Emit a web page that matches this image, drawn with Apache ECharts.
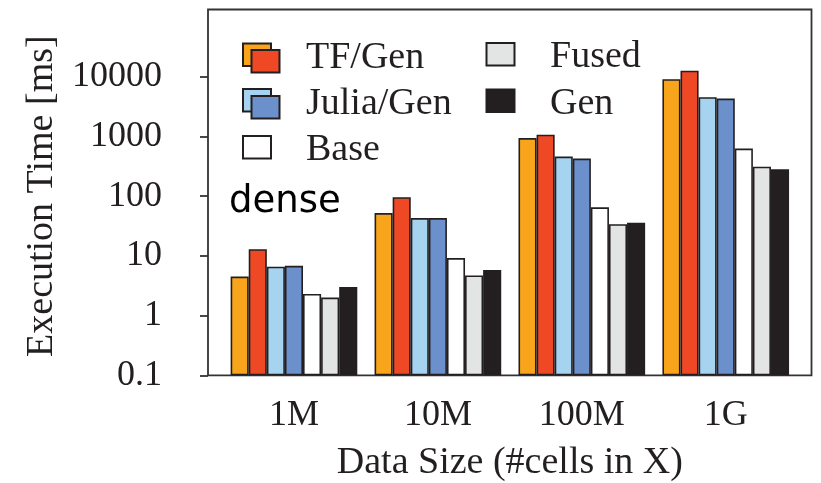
<!DOCTYPE html>
<html>
<head>
<meta charset="utf-8">
<script src="https://cdn.jsdelivr.net/npm/echarts@6/dist/echarts.min.js"></script>
<style>html,body{margin:0;padding:0;background:#fff;}#c{width:821px;height:483px;}</style>
</head>
<body>
<div id="c"></div>
<script>
// ---- data ----
const categories = ['1M', '10M', '100M', '1G'];
const tfTF    = [4.5, 52, 940, 9100];     // TF/Gen (orange)
const tfGen   = [12.9, 96, 1070, 12600];  // TF/Gen (red)
const juliaJ  = [6.6, 43, 460, 4550];     // Julia/Gen (light blue)
const juliaG  = [6.8, 43, 425, 4300];     // Julia/Gen (blue)
const base    = [2.3, 9.2, 65, 625];
const fused   = [2.0, 4.7, 34, 312];
const gen     = [3.0, 5.8, 36, 282];
const yTicks  = [0.1, 1, 10, 100, 1000, 10000];

const INK = '#231F20';
const SERIF = 'Liberation Serif';
const colors = ['#F9A51B', '#EF4824', '#A6D3F0', '#6B90CB', '#FFFFFF', '#E3E5E4', '#231F20'];
const seriesData = [tfTF, tfGen, juliaJ, juliaG, base, fused, gen];
const seriesNames = ['TF/Gen (TF)', 'TF/Gen (Gen)', 'Julia/Gen (Julia)', 'Julia/Gen (Gen)', 'Base', 'Fused', 'Gen'];

const chart = echarts.init(document.getElementById('c'), null, {renderer: 'canvas'});

function legendRect(x, y, fill) {
  return {type: 'rect', shape: {x: x, y: y, width: 28, height: 22.5},
          style: {fill: fill, stroke: INK, lineWidth: 2}, z: 100};
}
function legendText(x, y, t) {
  return {type: 'text', x: x, y: y, z: 100,
          style: {text: t, fontFamily: SERIF, fontSize: 38, fill: INK, verticalAlign: 'middle', align: 'left'}};
}

const option = {
  backgroundColor: '#fff',
  animation: false,
  grid: [
    {left: 208, right: 9.5, top: 9.5, bottom: 107.7, show: true, borderColor: '#333', borderWidth: 1.8,
     backgroundColor: 'transparent', containLabel: false, outerBoundsMode: 'none'},
    {left: 222, right: 23.3, top: 17, bottom: 107.7, containLabel: false, outerBoundsMode: 'none'}
  ],
  xAxis: [
    {gridIndex: 0, type: 'value', show: false, min: 0, max: 1},
    {gridIndex: 1, type: 'category', data: categories,
     axisLine: {show: false}, axisTick: {show: false},
     axisLabel: {fontFamily: SERIF, fontSize: 36, color: INK, margin: 22},
     name: 'Data Size (#cells in X)', nameLocation: 'middle', nameGap: 69,
     nameTextStyle: {fontFamily: SERIF, fontSize: 38, color: INK}}
  ],
  yAxis: [
    {gridIndex: 0, type: 'value', show: false, min: 0, max: 1},
    {gridIndex: 1, type: 'log', logBase: 10, min: 0.1, max: 100000, startValue: 0.1,
     offset: 14,
     splitLine: {show: false},
     axisLine: {show: false},
     axisTick: {show: true, length: 8, lineStyle: {color: '#333', width: 1.8}, customValues: yTicks},
     axisLabel: {fontFamily: SERIF, fontSize: 36, color: INK, margin: 46, customValues: yTicks,
                 formatter: function (v) { return String(v); }},
     name: 'Execution Time [ms]', nameLocation: 'middle', nameGap: 146,
     nameTextStyle: {fontFamily: SERIF, fontSize: 38, color: INK}}
  ],
  series: seriesData.map(function (d, i) {
    return {
      name: seriesNames[i], type: 'bar', xAxisIndex: 1, yAxisIndex: 1,
      data: d, barGap: '0%', barCategoryGap: '12%',
      itemStyle: {color: colors[i], borderColor: INK, borderWidth: 1.6},
      emphasis: {disabled: true}
    };
  }),
  graphic: [
    legendRect(243, 43.5, colors[0]),
    legendRect(251.5, 50, colors[1]),
    legendText(306, 58, 'TF/Gen'),
    legendRect(243, 89, colors[2]),
    legendRect(251.5, 96, colors[3]),
    legendText(306, 104.5, 'Julia/Gen'),
    legendRect(243, 136, colors[4]),
    legendText(306, 150, 'Base'),
    legendRect(486.5, 43, colors[5]),
    legendText(550, 57.5, 'Fused'),
    legendRect(486.5, 89.5, colors[6]),
    legendText(550, 104.5, 'Gen'),
    {type: 'text', x: 229, y: 202, z: 100,
     style: {text: 'dense', fontFamily: 'DejaVu Sans', fontSize: 37, fill: '#000', verticalAlign: 'middle', align: 'left'}}
  ]
};
chart.setOption(option);
</script>
</body>
</html>
